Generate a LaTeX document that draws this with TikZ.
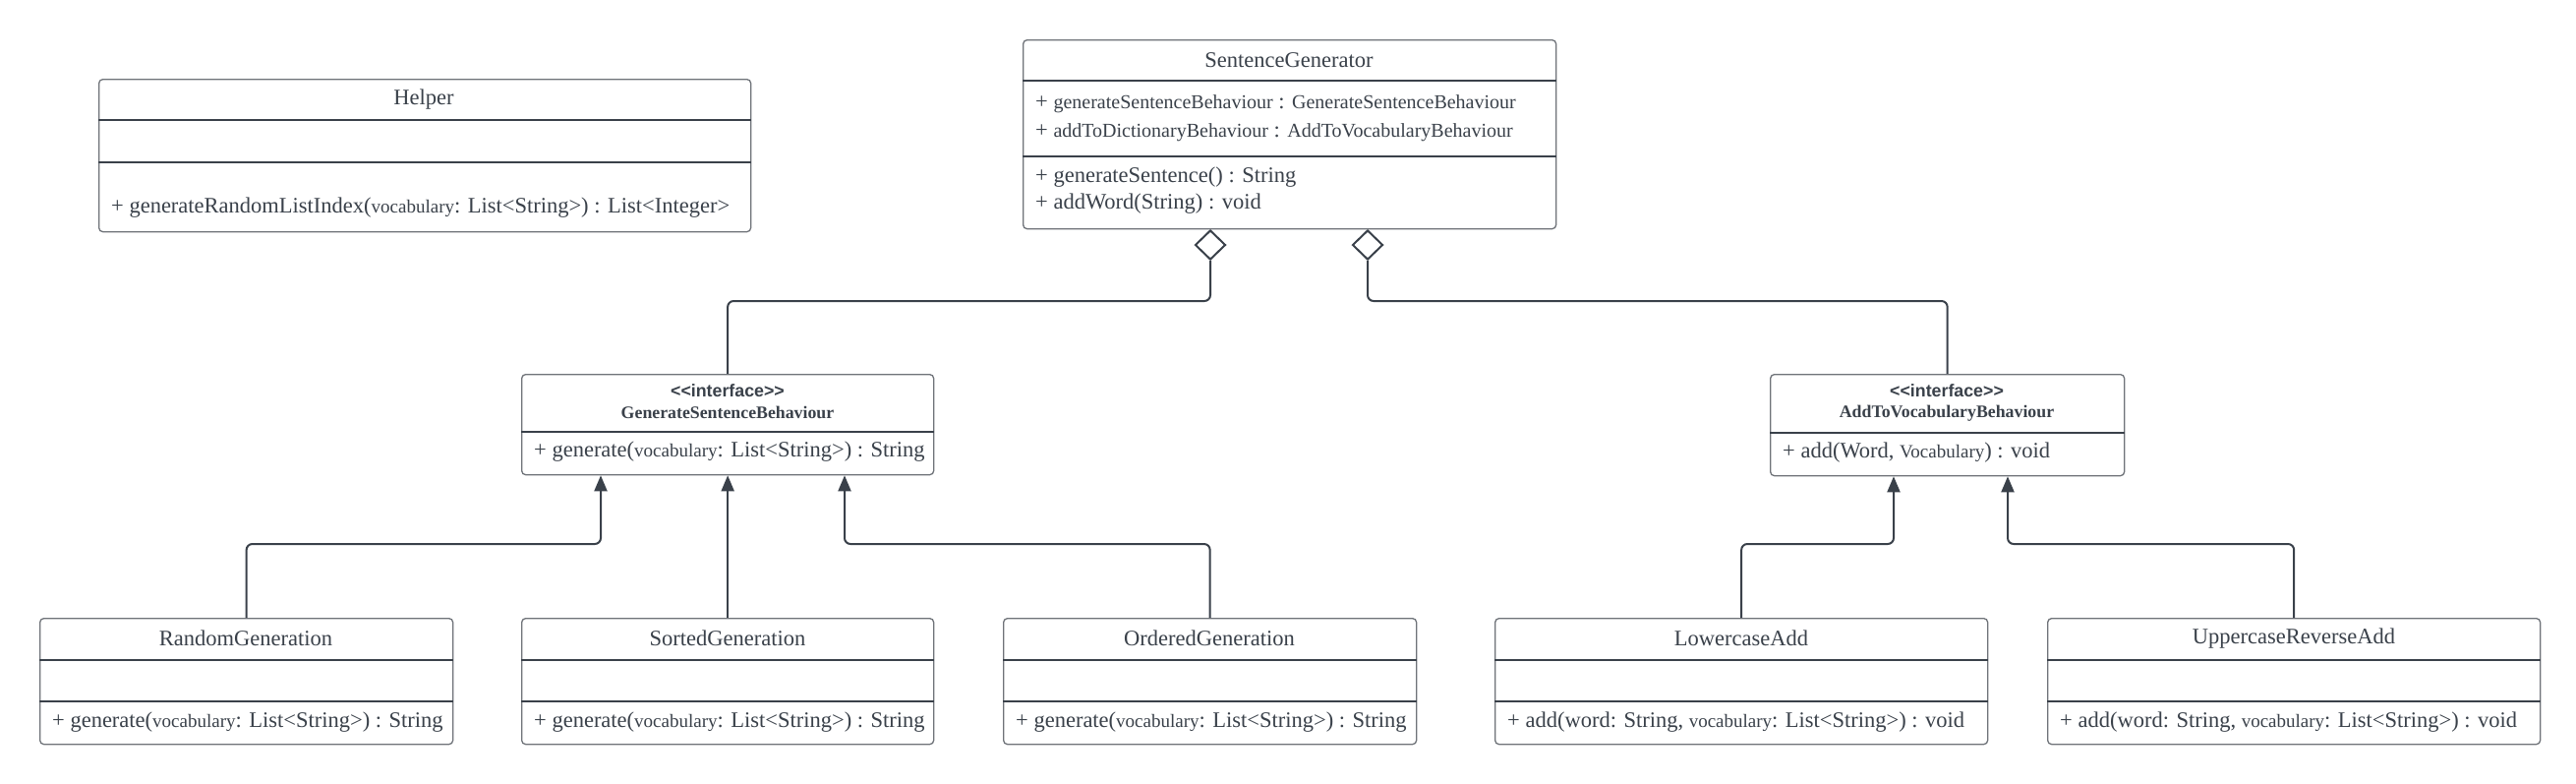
\documentclass[tikz,border=0pt]{standalone}
\usepackage{fontspec}
\setmainfont{Liberation Serif}
\newfontfamily\lsans{Liberation Sans}
\usetikzlibrary{arrows.meta,shapes.geometric}
\definecolor{txt}{HTML}{3A414A}
\definecolor{edgec}{HTML}{6F7379}
\definecolor{connc}{HTML}{3A414A}
\newcommand\bigf{\fontsize{22.5}{26}\selectfont}
\newcommand\smf{\fontsize{19}{22}\selectfont}
\newcommand\attf{\fontsize{20}{24}\selectfont}
\newcommand\intf{\fontsize{17.8}{20}\selectfont}
\begin{document}
\begin{tikzpicture}[x=1pt,y=-1pt,
  cls/.style={draw=edgec, line width=1.3pt, rounded corners=4pt, inner sep=0pt, anchor=north west},
  div/.style={draw=connc, line width=1.3pt},
  ttl/.style={text=txt, inner sep=0pt, font=\bigf},
  mth/.style={text=txt, inner sep=0pt, anchor=west, font=\bigf},
  conn/.style={draw=connc, line width=2pt, rounded corners=6pt},
  inh/.style={conn, -{Triangle[width=13pt,length=16pt]}},
  agg/.style={draw=connc, line width=2pt, fill=white, diamond, inner sep=0pt, minimum width=31pt, minimum height=30pt, anchor=north}
]
\fill[white] (0,0) rectangle (2620,796);
\useasboundingbox (0,0) rectangle (2620,796);

% Helper
\node[cls, minimum width=663pt, minimum height=155pt] (hel) at (100,80) {};
\draw[div] (hel.west |- 0,122) -- (hel.east |- 0,122);
\draw[div] (hel.west |- 0,165) -- (hel.east |- 0,165);
\node[ttl] (helT) at (431,101) {Helper};
\node[mth] (helM) at (113,211) {+ generateRandomListIndex({\smf vocabulary}: List<String>) : List<Integer>};

% SentenceGenerator
\node[cls, minimum width=542pt, minimum height=192pt] (sg) at (1040,40) {};
\draw[div] (sg.west |- 0,82) -- (sg.east |- 0,82);
\draw[div] (sg.west |- 0,159) -- (sg.east |- 0,159);
\node[ttl] (sgT) at (1311,61) {SentenceGenerator};
\node[mth] (sgA1) at (1053,106) {+ {\attf generateSentenceBehaviour} : {\attf GenerateSentenceBehaviour}};
\node[mth] (sgA2) at (1053,135) {+ {\attf addToDictionaryBehaviour} : {\attf AddToVocabularyBehaviour}};
\node[mth] (sgM1) at (1053,180) {+ generateSentence() : String};
\node[mth] (sgM2) at (1053,207) {+ addWord(String) : void};

% GenerateSentenceBehaviour
\node[cls, minimum width=419pt, minimum height=102pt] (gsb) at (530,380) {};
\draw[div] (gsb.west |- 0,439) -- (gsb.east |- 0,439);
\node[text=txt, inner sep=0pt, font=\lsans\bfseries\intf] (gsbI) at (740,397) {<<interface>>};
\node[text=txt, inner sep=0pt, font=\bfseries\intf] (gsbT) at (740,419) {GenerateSentenceBehaviour};
\node[mth] (gsbM) at (543,459) {+ generate({\smf vocabulary}: List<String>) : String};

% AddToVocabularyBehaviour
\node[cls, minimum width=360pt, minimum height=103pt] (atv) at (1800,380) {};
\draw[div] (atv.west |- 0,440) -- (atv.east |- 0,440);
\node[text=txt, inner sep=0pt, font=\lsans\bfseries\intf] (atvI) at (1980,397) {<<interface>>};
\node[text=txt, inner sep=0pt, font=\bfseries\intf] (atvT) at (1980,420) {AddToVocabularyBehaviour};
\node[mth] (atvM) at (1813,460) {+ add(Word, {\smf Vocabulary}) : void};

% Bottom row
\node[cls, minimum width=420pt, minimum height=128pt] (rnd) at (40,628) {};
\node[cls, minimum width=419pt, minimum height=128pt] (srt) at (530,628) {};
\node[cls, minimum width=420pt, minimum height=128pt] (ord) at (1020,628) {};
\node[cls, minimum width=501pt, minimum height=128pt] (low) at (1520,628) {};
\node[cls, minimum width=501pt, minimum height=128pt] (upp) at (2082,628) {};
\foreach \b in {rnd,srt,ord,low,upp}{
  \draw[div] (\b.west |- 0,671) -- (\b.east |- 0,671);
  \draw[div] (\b.west |- 0,713) -- (\b.east |- 0,713);
}
\node[ttl] (rndT) at (250,649) {RandomGeneration};
\node[mth] (rndM) at (53,734) {+ generate({\smf vocabulary}: List<String>) : String};
\node[ttl] (srtT) at (740,649) {SortedGeneration};
\node[mth] (srtM) at (543,734) {+ generate({\smf vocabulary}: List<String>) : String};
\node[ttl] (ordT) at (1230,649) {OrderedGeneration};
\node[mth] (ordM) at (1033,734) {+ generate({\smf vocabulary}: List<String>) : String};
\node[ttl] (lowT) at (1771,649) {LowercaseAdd};
\node[mth] (lowM) at (1533,734) {+ add(word: String, {\smf vocabulary}: List<String>) : void};
\node[ttl] (uppT) at (2333,649) {UppercaseReverseAdd};
\node[mth] (uppM) at (2095,734) {+ add(word: String, {\smf vocabulary}: List<String>) : void};

% Aggregation
\node[agg] (d1) at (1231,233) {};
\node[agg] (d2) at (1391,233) {};
\draw[conn] (d1.south) |- (gsb.north |- 0,306) -- (gsb.north);
\draw[conn] (d2.south) |- (atv.north |- 0,306) -- (atv.north);

% Inheritance
\coordinate (g1) at (gsb.south -| 611,0);
\coordinate (g3) at (gsb.south -| 859,0);
\coordinate (a1) at (atv.south -| 1926,0);
\coordinate (a2) at (atv.south -| 2042,0);
\draw[inh] (rnd.north) |- (g1 |- 0,553) -- (g1);
\draw[inh] (srt.north) -- (gsb.south);
\draw[inh] (ord.north) |- (g3 |- 0,553) -- (g3);
\draw[inh] (low.north) |- (a1 |- 0,553) -- (a1);
\draw[inh] (upp.north) |- (a2 |- 0,553) -- (a2);
\end{tikzpicture}
\end{document}
